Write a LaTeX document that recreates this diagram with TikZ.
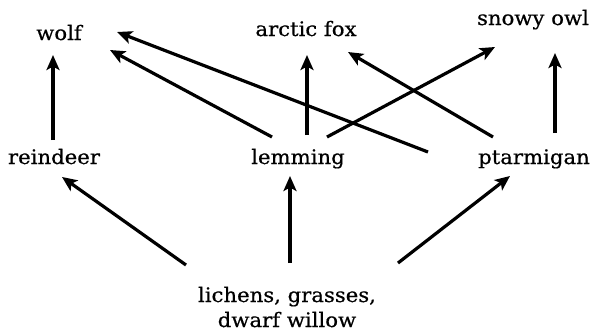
\documentclass[tikz,border=0pt]{standalone}
\usepackage{fontspec}
\setmainfont{DejaVu Serif}[FakeStretch=1.06,FakeBold=0.6]
\usetikzlibrary{arrows.meta}
\begin{document}
\begin{tikzpicture}[x=1pt,y=-1pt,
  species/.style={inner sep=0pt,anchor=base,font=\fontsize{20}{25}\selectfont},
  feeds/.style={line width=3.2pt,-{Stealth[length=15pt,width=13pt,inset=3.5pt]}}]
\useasboundingbox (0,0) rectangle (595,335);
% organisms
\node[species] (wolf) at (59,40) {wolf};
\node[species] (fox) at (306,36) {arctic fox};
\node[species] (owl) at (533,25) {snowy owl};
\node[species] (reindeer) at (54,164) {reindeer};
\node[species] (lemming) at (298,164) {lemming};
\node[species] (ptarmigan) at (534,164) {ptarmigan};
% base anchor sits on the last line of this node
\node[species,align=center] (plants) at (287,327) {lichens, grasses,\\dwarf willow};
% energy flow
\draw[feeds] ([shift={(-1,-24)}]reindeer.base) -- ([shift={(-6,15)}]wolf.base);
\draw[feeds] ([shift={(-26,-27)}]lemming.base) -- ([shift={(51,10)}]wolf.base);
\draw[feeds] ([shift={(-106,-12)}]ptarmigan.base) -- ([shift={(58,-8)}]wolf.base);
\draw[feeds] ([shift={(9,-29)}]lemming.base) -- ([shift={(1,19)}]fox.base);
\draw[feeds] ([shift={(29,-27)}]lemming.base) -- ([shift={(-38,22)}]owl.base);
\draw[feeds] ([shift={(-41,-27)}]ptarmigan.base) -- ([shift={(42,16)}]fox.base);
\draw[feeds] ([shift={(21,-31)}]ptarmigan.base) -- ([shift={(22,28)}]owl.base);
\draw[feeds] ([shift={(-101,-62)}]plants.base) -- ([shift={(8,13)}]reindeer.base);
\draw[feeds] ([shift={(3,-64)}]plants.base) -- ([shift={(-8,12)}]lemming.base);
\draw[feeds] ([shift={(111,-64)}]plants.base) -- ([shift={(-24,12)}]ptarmigan.base);
\end{tikzpicture}
\end{document}
